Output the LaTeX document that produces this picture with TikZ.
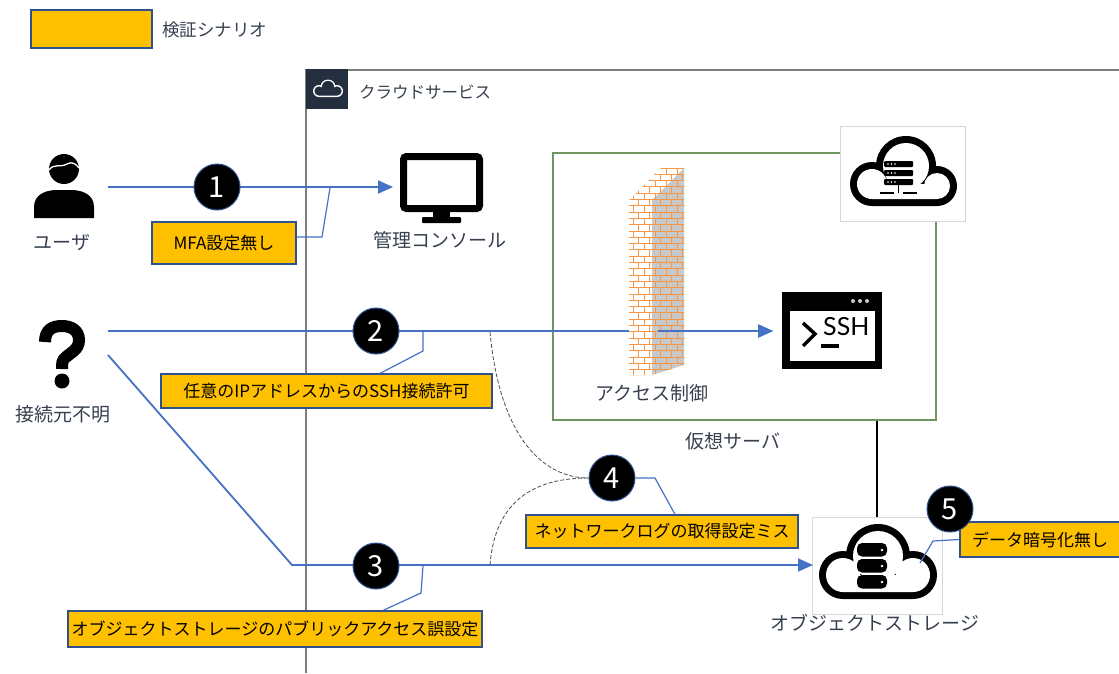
\documentclass[tikz,border=0pt]{standalone}
\usepackage{fontspec}
\setmainfont{Noto Sans CJK JP}
\newfontfamily\latofont{Lato}
\usetikzlibrary{arrows.meta}

\definecolor{scen}{RGB}{255,192,0}
\definecolor{scenedge}{RGB}{47,82,143}
\definecolor{flowblue}{RGB}{68,114,196}
\definecolor{labelgray}{RGB}{55,64,80}
\definecolor{framegray}{RGB}{125,125,125}
\definecolor{hdr}{RGB}{35,47,62}
\definecolor{vmgreen}{RGB}{112,150,96}
\definecolor{iconedge}{RGB}{215,215,215}
\definecolor{brick}{RGB}{247,150,70}
\definecolor{brickgray}{RGB}{200,200,200}

\tikzset{
  scenbox/.style={draw=scenedge, line width=1.2pt, fill=scen, text=black,
    font=\fontsize{17}{19}\selectfont, inner sep=0pt},
  lbl/.style={text=labelgray, font=\fontsize{19}{22}\selectfont, inner sep=0pt},
  num/.style={circle, fill=black, draw=scenedge, line width=1pt, minimum size=46pt,
    inner sep=0pt, text=white, font=\fontsize{29}{29}\selectfont},
  flow/.style={draw=flowblue, line width=1.8pt},
  flowarrow/.style={flow, -{Triangle[length=15pt,width=13pt]}},
  callout/.style={draw=flowblue, line width=1.2pt},
  logpath/.style={draw=black!70, line width=0.8pt, dash pattern=on 4pt off 2pt},
  iconbox/.style={draw=iconedge, line width=1pt, fill=white, inner sep=0pt},
  mortar/.style={draw=brick, line width=0.9pt},
}

\begin{document}
\begin{tikzpicture}[x=1pt,y=-1pt]
\useasboundingbox (0,0) rectangle (1119,673);

% ---------- legend ----------
\node[scenbox, minimum width=121pt, minimum height=38pt] (legend) at (91.5,29) {};
\node[lbl, anchor=west, font=\fontsize{17.5}{20}\selectfont] (legendtext) at (162,30) {検証シナリオ};

% ---------- cloud service frame ----------
\draw[draw=framegray, line width=1.2pt] (306,673) -- (306,70) -- (1119,70);
\fill[hdr] (306,69) rectangle (348,109);
% small cloud glyph in the header
\fill[white] (319,91) circle (6pt) (328,87) circle (7.5pt) (337,91) circle (6pt)
  (319,91) rectangle (337,97);
\fill[hdr] (319,91) circle (4.6pt) (328,87) circle (6.1pt) (337,91) circle (4.6pt)
  (319,91) rectangle (337,95.6);
\node[lbl, anchor=west, font=\fontsize{16.5}{20}\selectfont] (cloudtitle) at (359,92) {クラウドサービス};

% ---------- virtual server area ----------
\node[draw=vmgreen, line width=1.1pt, minimum width=383pt, minimum height=267pt, inner sep=0pt]
  (vm) at (744.5,286.5) {};
\node[lbl] (vmlabel) at (733,441) {仮想サーバ};

% server-cloud badge
\node[iconbox, minimum width=125pt, minimum height=95pt] (srv) at (902.5,174) {};
\fill[black] (872,184) circle (22pt) (906,166) circle (30pt) (937,186) circle (20pt)
  (872,184) rectangle (937,206);
\fill[white] (872,184) circle (15pt) (906,166) circle (23pt) (937,186) circle (13pt)
  (872,184) rectangle (937,199);
\foreach \ry in {161,170,179} {
  \fill[black, rounded corners=1pt] (884,\ry) rectangle (913,\ry+6);
  \foreach \dx in {888,891.5,895} \fill[white] (\dx,\ry+3) circle (0.9pt);
}
\draw[black, line width=1.6pt] (898.5,185) -- (898.5,193);
\draw[black, line width=2pt] (880,193) -- (894,193) (903,193) -- (917,193);

% object storage badge
\node[iconbox, minimum width=130pt, minimum height=97pt] (stor) at (877,565.5) {};

% ---------- connectors ----------
\coordinate (userout) at (108,187);
\coordinate (consolein) at (393,187);
\coordinate (qout) at (108,331);
\coordinate (sshin) at (773,331);
\coordinate (qout2) at (108,355);
\coordinate (bend3) at (292,565);
\coordinate (storin) at (813,565);
\coordinate (fwexit) at (658,331);

\draw[flowarrow] (userout) -- (consolein);
\draw[flowarrow] (qout) -- (sshin);
\draw[flowarrow] (qout2) -- (bend3) -- (storin);
\draw[black, line width=2.8pt] (stor.north) -- (stor.north |- vm.south);

% ---------- firewall (access control) ----------
\fill[white] (629,375) -- (629,200) -- (661,168) -- (684,168) -- (652,200) -- (652,375) -- cycle;
\fill[brickgray] (652,200) -- (684,168) -- (684,365) -- (652,375) -- cycle;
\begin{scope}
  \clip (629,375) -- (629,200) -- (661,168) -- (684,168) -- (684,365) -- (652,375) -- cycle;
  \foreach \r in {0,...,33} {
    \pgfmathsetmacro\yy{168+\r*6.3}
    \pgfmathsetmacro\yb{\yy+6.3}
    \pgfmathsetmacro\off{mod(\r,2)*5.5}
    \draw[mortar] (620,\yy) -- (690,\yy);
    \foreach \j in {0,...,6} {
      \pgfmathsetmacro\xx{622+\j*11+\off}
      \draw[mortar] (\xx,\yy) -- (\xx,\yb);
    }
  }
\end{scope}
\draw[flowarrow] (fwexit) -- (sshin);
\node[lbl] (fwlabel) at (652,393) {アクセス制御};

% ---------- log collection paths ----------
\node[num] (n4) at (612,478) {4};
\draw[logpath] (490,332) .. controls (500,440) and (545,478) .. (n4.west);
\draw[logpath] (490,565) .. controls (495,500) and (535,478) .. (n4.west);

% ---------- user ----------
\fill[black] (64,169) circle (15pt);
\draw[white, line width=1.3pt] (49,170) .. controls (54,163) and (60,168) .. (67,164)
  .. controls (72,161) and (76,164) .. (79,168);
\fill[black] (34,218) -- (34,207) .. controls (34,195) and (45,190) .. (57,190) -- (71,190)
  .. controls (83,190) and (94,195) .. (94,207) -- (94,218) -- cycle;
\node[lbl] (userlabel) at (62,243) {ユーザ};

% ---------- unknown source (question-mark pictogram) ----------
\draw[black, line width=12pt] (45,342) .. controls (45,330) and (52,326) .. (62,326)
  .. controls (72,326) and (79,331) .. (79,340)
  .. controls (79,350) and (70,353) .. (66,357)
  .. controls (62,360) and (62,363) .. (62,369);
\fill[black] (62,381) circle (7.5pt);
\node[lbl] (unknownlabel) at (63,414) {接続元不明};

% ---------- management console ----------
\draw[black, line width=7pt, rounded corners=3pt] (403.5,156.5) rectangle (479.5,208.5);
\fill[black] (433,211) rectangle (450,218);
\fill[black, rounded corners=1pt] (422,217) rectangle (461,223);
\node[lbl] (consolelabel) at (440,240) {管理コンソール};

% ---------- SSH terminal ----------
\fill[black] (782,292) rectangle (882,369);
\fill[white] (790,311) rectangle (875,361);
\foreach \dx in {853,860,867} \fill[white!80!black] (\dx,301) circle (2pt);
\draw[black, line width=3.5pt] (803,323) -- (815,334) -- (803,346);
\draw[black, line width=3.5pt] (821,346) -- (839,346);
\node[inner sep=0pt, anchor=west, font=\latofont\fontsize{25}{25}\selectfont] (sshtext) at (823,327) {SSH};

% ---------- object storage cloud ----------
\fill[black] (843,575) circle (24pt) (878,556) circle (32pt) (913,575) circle (24pt)
  (843,575) rectangle (913,599);
\fill[white] (843,575) circle (17pt) (878,556) circle (25pt) (913,575) circle (17pt)
  (843,575) rectangle (913,592);
\foreach \ry in {543,559,575} {
  \fill[black, rounded corners=5pt] (857,\ry) rectangle (887,\ry+13.5);
  \fill[white] (882,\ry+7) circle (1.4pt);
}
\node[lbl] (storlabel) at (875,623) {オブジェクトストレージ};

% ---------- scenarios ----------
\node[scenbox, minimum width=144pt, minimum height=42pt] (b1) at (224,243) {MFA設定無し};
\node[scenbox, minimum width=331pt, minimum height=34pt] (b2) at (326.5,391) {任意のIPアドレスからのSSH接続許可};
\node[scenbox, minimum width=414pt, minimum height=36pt] (b3) at (275,629) {オブジェクトストレージのパブリックアクセス誤設定};
\node[scenbox, minimum width=272pt, minimum height=33pt] (b4) at (662,531.5) {ネットワークログの取得設定ミス};
\node[scenbox, minimum width=160pt, minimum height=35pt] (b5) at (1040,539.5) {データ暗号化無し};

\draw[callout] ([yshift=6pt]b1.east) -- (322,237) -- (330,188);
\draw[callout] ([xshift=53.5pt]b2.north) -- (423,351) -- (423,332);
\draw[callout] ([xshift=108pt]b3.north) -- (421,593) -- (423,566);
\draw[callout] (n4.east) -- (655,478) -- ([xshift=13pt]b4.north);
\draw[callout] (b5.west) -- (933,541) -- (920,563);

\node[num] (n1) at (217,187) {1};
\node[num] (n2) at (376,331) {2};
\node[num] (n3) at (376,566) {3};
\node[num] (n5) at (950,509) {5};
\end{tikzpicture}
\end{document}
